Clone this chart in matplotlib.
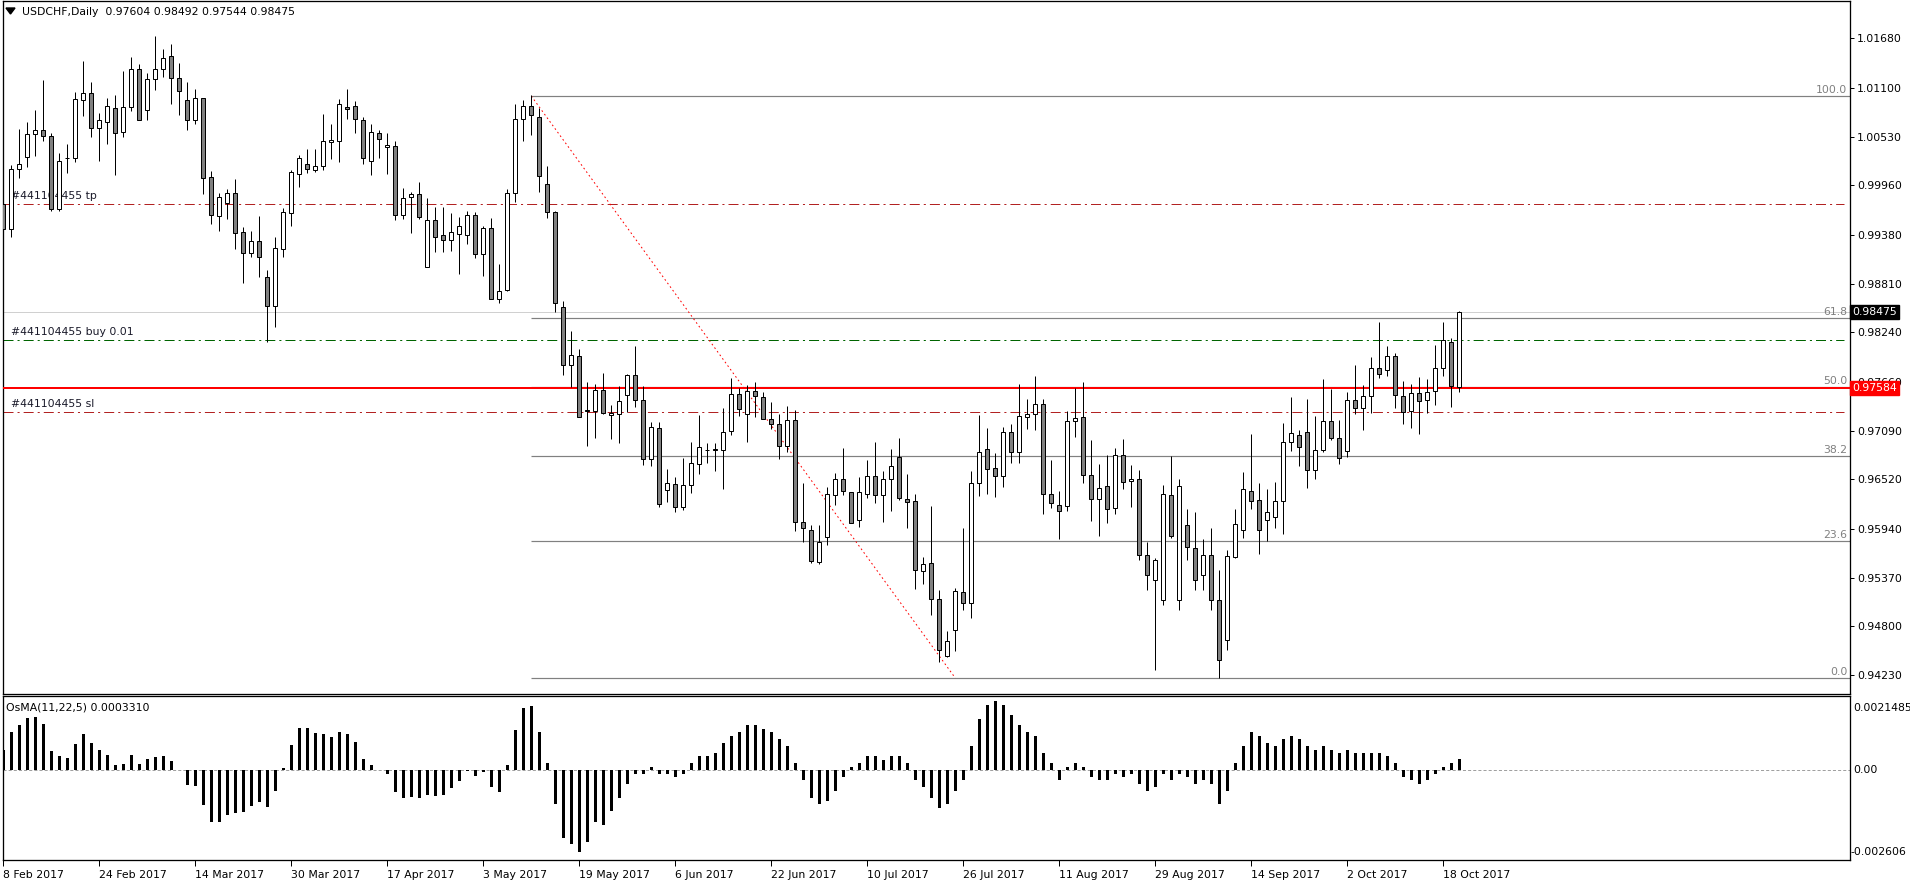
import numpy as np
import matplotlib
matplotlib.use("Agg")
import matplotlib.pyplot as plt
import matplotlib.transforms as mtrans

plt.rcParams['font.family'] = ['DejaVu Sans']
plt.rcParams['lines.scale_dashes'] = False

# ---------------- data ----------------
open_ = [0.99737,0.99445,1.00147,1.00287,1.00556,1.00603,1.00533,0.99679,1.00275,1.00275,
 1.00958,1.01036,1.00626,1.00697,1.00860,1.00580,1.00872,1.01317,1.00837,1.01200,
 1.01317,1.01469,1.01211,1.00954,1.00720,1.00977,1.00053,0.99597,0.99749,0.99866,
 0.99410,0.99164,0.99304,0.98883,0.98552,0.99219,0.99632,1.00096,1.00205,1.00135,
 1.00182,1.00463,1.00474,1.00872,1.00884,1.00720,1.00240,1.00568,1.00404,1.00416,
 0.99609,0.99819,0.99854,0.99000,0.99550,0.99375,0.99316,0.99386,0.99375,0.99609,
 0.99152,0.99456,0.98626,0.98739,0.99866,1.00732,1.00884,1.00755,0.99971,0.99644,
 0.98540,0.97854,0.97959,0.97335,0.97315,0.97561,0.97269,0.97280,0.97503,0.97737,
 0.97444,0.96762,0.97116,0.96391,0.96461,0.96192,0.96450,0.96699,0.96863,0.96871,
 0.96863,0.97081,0.97514,0.97280,0.97549,0.97479,0.97222,0.97163,0.96906,0.97210,
 0.96017,0.95923,0.95549,0.95841,0.96333,0.96520,0.96368,0.96040,0.96344,0.96555,
 0.96333,0.96520,0.96777,0.96286,0.96262,0.95443,0.95537,0.95116,0.94449,0.94753,
 0.95198,0.95069,0.96473,0.96871,0.96648,0.96555,0.97070,0.96836,0.97245,0.97280,
 0.97397,0.96344,0.96216,0.96204,0.97198,0.97245,0.96567,0.96286,0.96438,0.96180,
 0.96801,0.96496,0.96520,0.95634,0.95342,0.95108,0.96333,0.95108,0.95982,0.95712,
 0.95400,0.95631,0.95108,0.94639,0.95607,0.95923,0.96379,0.96274,0.96040,0.96075,
 0.96262,0.96953,0.97035,0.97070,0.96625,0.96859,0.97198,0.96999,0.96847,0.97444,
 0.97350,0.97491,0.97818,0.97795,0.97959,0.97491,0.97315,0.97526,0.97444,0.97549,
 0.97818,0.98123,0.97604]
high = [0.99995,1.00197,1.00619,1.00697,1.00841,1.01192,1.00568,1.00334,1.00439,1.01052,
 1.01414,1.01169,1.00802,1.00977,1.01013,1.01297,1.01457,1.01383,1.01270,1.01711,
 1.01555,1.01613,1.01391,1.01169,1.01087,1.00985,1.00131,0.99866,0.99913,1.00030,
 0.99468,0.99421,0.99597,0.98973,0.99355,0.99690,1.00135,1.00311,1.00385,1.00385,
 1.00794,1.00677,1.00970,1.01087,1.00946,1.00763,1.00677,1.00607,1.00568,1.00478,
 0.99928,0.99882,0.99999,0.99807,0.99702,0.99706,0.99636,0.99589,0.99659,0.99644,
 0.99488,0.99573,0.99043,0.99917,1.00911,1.00958,1.01016,1.00860,1.00182,0.99660,
 0.98606,0.98255,0.98041,0.97655,0.97635,0.97764,0.97386,0.97612,0.97756,0.98076,
 0.97612,0.97194,0.97194,0.96641,0.96543,0.96769,0.96960,0.97276,0.96941,0.96941,
 0.97350,0.97705,0.97584,0.97623,0.97655,0.97538,0.97421,0.97280,0.97374,0.97327,
 0.96473,0.95985,0.95985,0.96426,0.96590,0.96882,0.96368,0.96543,0.96746,0.96953,
 0.96613,0.96871,0.96999,0.96578,0.96344,0.95607,0.96208,0.95225,0.94741,0.95244,
 0.95946,0.96613,0.97272,0.97116,0.96824,0.97128,0.97163,0.97635,0.97456,0.97729,
 0.97456,0.96746,0.96379,0.97315,0.97584,0.97655,0.96976,0.96695,0.96800,0.96886,
 0.96992,0.96687,0.96625,0.95786,0.95599,0.96449,0.96796,0.96519,0.96169,0.96137,
 0.95818,0.95947,0.95459,0.95690,0.96169,0.96602,0.97046,0.96473,0.96403,0.96485,
 0.97175,0.97479,0.97093,0.97456,0.97257,0.97690,0.97573,0.97210,0.97538,0.97854,
 0.97620,0.97947,0.98357,0.98076,0.97994,0.97666,0.97631,0.97713,0.97690,0.98088,
 0.98357,0.98169,0.98492]
low = [0.99289,0.99359,1.00049,1.00178,1.00307,1.00478,0.99659,0.99659,1.00108,1.00236,
 1.00771,1.00529,1.00248,1.00447,1.00084,1.00529,1.00833,1.00724,1.00728,1.01075,
 1.01231,1.00915,1.00786,1.00603,1.00681,0.99854,0.99511,0.99421,0.99570,0.99219,
 0.98813,0.99117,0.98891,0.98130,0.98306,0.99125,0.99488,0.99944,1.00100,1.00112,
 1.00135,1.00264,1.00236,1.00736,1.00568,1.00213,1.00084,1.00283,1.00096,0.99550,
 0.99562,0.99406,0.99562,0.99000,0.99183,0.99183,0.99195,0.98926,0.99277,0.99113,
 0.98903,0.98626,0.98587,0.98727,0.99761,1.00482,1.00552,0.99878,0.99573,0.98474,
 0.97737,0.97596,0.97245,0.96914,0.97007,0.97280,0.96996,0.96949,0.97304,0.97362,
 0.96691,0.96680,0.96200,0.96258,0.96134,0.96165,0.96356,0.96578,0.96707,0.96617,
 0.96403,0.97035,0.97257,0.96953,0.97253,0.97222,0.97113,0.96754,0.96843,0.95911,
 0.95783,0.95537,0.95525,0.95748,0.96216,0.96333,0.96005,0.95958,0.96297,0.96239,
 0.96017,0.96145,0.96278,0.95946,0.95233,0.95291,0.94928,0.94379,0.94437,0.94507,
 0.94987,0.94893,0.96329,0.96352,0.96309,0.96426,0.96707,0.96707,0.97105,0.97093,
 0.96110,0.96180,0.95826,0.96145,0.97011,0.96473,0.96036,0.95853,0.96005,0.96110,
 0.96411,0.96192,0.95576,0.95225,0.94288,0.95049,0.95829,0.94991,0.95576,0.95225,
 0.95225,0.94991,0.94194,0.94522,0.95595,0.95829,0.96169,0.95642,0.95794,0.95946,
 0.95876,0.96847,0.96672,0.96414,0.96520,0.96836,0.96976,0.96695,0.96777,0.97280,
 0.97093,0.97292,0.97701,0.97725,0.97350,0.97163,0.97116,0.97046,0.97292,0.97386,
 0.97725,0.97362,0.97544]
close = [0.99445,1.00147,1.00205,1.00556,1.00603,1.00533,0.99679,1.00240,1.00279,1.00966,
 1.01036,1.00626,1.00724,1.00884,1.00568,1.00872,1.01317,1.00724,1.01200,1.01317,
 1.01445,1.01211,1.01059,1.00720,1.00977,1.00041,0.99609,0.99819,0.99866,0.99398,
 0.99164,0.99304,0.99117,0.98544,0.99222,0.99644,1.00112,1.00279,1.00147,1.00182,
 1.00474,1.00486,1.00907,1.00849,1.00732,1.00275,1.00580,1.00498,1.00428,0.99609,
 0.99807,0.99854,0.99585,0.99550,0.99351,0.99316,0.99410,0.99484,0.99609,0.99152,
 0.99456,0.98626,0.98719,0.99866,1.00732,1.00884,1.00779,1.00065,0.99644,0.98579,
 0.97854,0.97971,0.97245,0.97323,0.97561,0.97292,0.97292,0.97432,0.97737,0.97444,
 0.96762,0.97128,0.96227,0.96473,0.96192,0.96450,0.96707,0.96894,0.96867,0.96863,
 0.97070,0.97514,0.97339,0.97549,0.97491,0.97222,0.97163,0.96906,0.97210,0.96017,
 0.95946,0.95560,0.95783,0.96344,0.96520,0.96379,0.96005,0.96368,0.96555,0.96333,
 0.96520,0.96672,0.96297,0.96251,0.95455,0.95525,0.95116,0.94519,0.94624,0.95209,
 0.95069,0.96473,0.96836,0.96637,0.96555,0.97070,0.96836,0.97257,0.97280,0.97397,
 0.96344,0.96239,0.96145,0.97198,0.97233,0.96567,0.96286,0.96414,0.96169,0.96801,
 0.96485,0.96520,0.95631,0.95400,0.95576,0.96344,0.95853,0.96438,0.95724,0.95342,
 0.95631,0.95108,0.94405,0.95620,0.95993,0.96403,0.96262,0.95923,0.96134,0.96262,
 0.96953,0.97058,0.96894,0.96625,0.96859,0.97198,0.96999,0.96765,0.97444,0.97350,
 0.97491,0.97818,0.97748,0.97959,0.97503,0.97304,0.97526,0.97432,0.97538,0.97818,
 0.98146,0.97608,0.98475]
osma = [0.000598,0.00110,0.00132,0.00151,0.00155,0.00135,0.00057,0.00040,0.00034,0.00077,
 0.00106,0.00080,0.00060,0.00045,0.00016,0.00019,0.00045,0.00019,0.00031,0.00037,
 0.00040,0.00028,0.00000,-0.00044,-0.00046,-0.00101,-0.00150,-0.00150,-0.00130,-0.00124,
 -0.00122,-0.00104,-0.00093,-0.00107,-0.00061,0.00005,0.00074,0.00123,0.00123,0.00109,
 0.00106,0.00097,0.00112,0.00106,0.00083,0.00031,0.00014,0.00001,-0.00012,-0.00064,
 -0.00081,-0.00078,-0.00081,-0.00072,-0.00075,-0.00072,-0.00052,-0.00032,-0.00003,-0.00017,
 -0.00004,-0.00049,-0.00064,0.00016,0.00118,0.00181,0.00187,0.00112,0.00022,-0.00098,
 -0.00197,-0.00214,-0.00237,-0.00210,-0.00150,-0.00160,-0.00120,-0.00080,-0.00040,-0.00010,
 -0.00010,0.00010,-0.00010,-0.00010,-0.00020,-0.00010,0.00020,0.00040,0.00040,0.00050,
 0.00080,0.00100,0.00110,0.00130,0.00130,0.00120,0.00110,0.00090,0.00070,0.00020,
 -0.00030,-0.00080,-0.00100,-0.00090,-0.00060,-0.00020,0.00010,0.00020,0.00040,0.00040,
 0.00030,0.00040,0.00040,0.00020,-0.00030,-0.00050,-0.00080,-0.00110,-0.00100,-0.00060,
 -0.00030,0.00070,0.00150,0.00190,0.00200,0.00190,0.00160,0.00130,0.00110,0.00100,
 0.00050,0.00020,-0.00030,0.00010,0.00020,0.00010,-0.00020,-0.00030,-0.00030,-0.00010,
 -0.00020,-0.00010,-0.00040,-0.00060,-0.00050,-0.00010,-0.00030,-0.00010,-0.00020,-0.00040,
 -0.00030,-0.00040,-0.00100,-0.00060,0.00020,0.00070,0.00110,0.00100,0.00080,0.00070,
 0.00090,0.00100,0.00090,0.00070,0.00060,0.00070,0.00060,0.00050,0.00060,0.00050,
 0.00050,0.00050,0.00050,0.00040,0.00020,-0.00020,-0.00030,-0.00040,-0.00030,-0.00010,
 0.00010,0.00020,0.000331]

date_idx = [0, 12, 24, 36, 48, 60, 72, 84, 96, 108, 120, 132, 144, 156, 168, 180]
date_labels = ["8 Feb 2017", "24 Feb 2017", "14 Mar 2017", "30 Mar 2017", "17 Apr 2017",
               "3 May 2017", "19 May 2017", "6 Jun 2017", "22 Jun 2017", "10 Jul 2017",
               "26 Jul 2017", "11 Aug 2017", "29 Aug 2017", "14 Sep 2017", "2 Oct 2017",
               "18 Oct 2017"]
price_ticks = [1.01680, 1.01100, 1.00530, 0.99960, 0.99380, 0.98810, 0.98240, 0.97660,
               0.97090, 0.96520, 0.95940, 0.95370, 0.94800, 0.94230]

fib_start, fib_end = 66, 119
fib_high, fib_low = 1.01005, 0.94195
fib_levels = [0.0, 23.6, 38.2, 50.0, 61.8, 100.0]
tp_price, buy_price, sl_price = 0.99738, 0.98146, 0.97304
bid_price, hline_price = 0.98475, 0.97584
osma_max, osma_min = 0.0021485, -0.002606
header = "USDCHF,Daily  0.97604 0.98492 0.97544 0.98475"
osma_title = "OsMA(11,22,5) 0.0003310"

# ---------------- figure ----------------
W, H = 1910, 884
fig = plt.figure(figsize=(W / 100, H / 100), dpi=100)
fig.patch.set_facecolor("white")
PX = 0.72  # one pixel in points

L, R = 2.5, 1850
ax = fig.add_axes([L / W, 1 - 694 / H, (R - L) / W, (694 - 1) / H])
ax2 = fig.add_axes([L / W, 1 - 860 / H, (R - L) / W, (860 - 696) / H])

n = len(close)
x = np.arange(n)
o = np.array(open_); c = np.array(close); hi = np.array(high); lo = np.array(low)

ax.set_xlim(-0.1, 230.84)
ax.set_ylim(0.94008, 1.02117)
ax2.set_xlim(-0.1, 230.84)
ax2.set_ylim(osma_min - 0.00001, osma_max + 0.00001)

for a in (ax, ax2):
    for s in a.spines.values():
        s.set_linewidth(PX * 1.3)
        s.set_color("black")
    a.set_facecolor("white")

# candles
ax.vlines(x, lo, hi, color="black", lw=PX, zorder=4)
bull = c >= o
bottoms = np.minimum(o, c)
heights = np.abs(c - o)
cols = np.where(bull, "white", "#808080")
ax.bar(x, heights, bottom=bottoms, width=0.55, color=cols, edgecolor="black",
       linewidth=PX, zorder=5)

# horizontal lines
ddash = (0, (7.2, 2.9, 1.5, 2.9))
ax.axhline(bid_price, color="#D0D0D0", lw=PX, zorder=2)
ax.axhline(tp_price, xmax=0.997, color="#B22222", lw=PX, ls=ddash, zorder=2)
ax.axhline(buy_price, xmax=0.997, color="#006400", lw=PX, ls=ddash, zorder=2)
ax.axhline(sl_price, xmax=0.997, color="#B22222", lw=PX, ls=ddash, zorder=2)

# fibonacci
bt = mtrans.blended_transform_factory(ax.transAxes, ax.transData)
for lv in fib_levels:
    p = fib_low + (fib_high - fib_low) * lv / 100.0
    ax.plot([fib_start, 230.84], [p, p], color="#808080", lw=PX * 1.2, zorder=2,
            solid_capstyle="butt")
    ax.text(0.9985, p + 0.00012, f"{lv:.1f}", transform=bt,
            ha="right", va="bottom", fontsize=7.8, color="#808080", zorder=3)
ax.plot([fib_start, fib_end], [fib_high, fib_low], color="red", lw=PX,
        ls=(0, (1.2, 2.0)), zorder=3)

ax.axhline(hline_price, color="#FF0000", lw=PX * 2, zorder=3)

# order labels
for txt, p in [("#441104455 tp", tp_price), ("#441104455 buy 0.01", buy_price),
               ("#441104455 sl", sl_price)]:
    ax.text(0.0045, p + 0.00035, txt, transform=bt, fontsize=7.8, color="#1a1a2a",
            ha="left", va="bottom", zorder=1)

# y axis on right
ax.yaxis.tick_right()
ax.set_yticks(price_ticks)
ax.set_yticklabels([f"{v:.5f}" for v in price_ticks])
ax.tick_params(axis="y", direction="out", length=3, width=PX, pad=2, labelsize=7.8,
               colors="black")
ax.set_xticks([])

# price boxes
for p, bg in [(bid_price, "black"), (hline_price, "#FF0000")]:
    ax.text(1.0012, p, f"{p:.5f}", transform=bt, ha="left", va="center", fontsize=7.8,
            color="white", zorder=10, clip_on=False,
            bbox=dict(boxstyle="square,pad=0.18", fc=bg, ec=bg))

# header
fig.text(22 / W, 1 - 12 / H, header, fontsize=7.8, ha="left", va="center", color="black")
fig.patches.append(plt.Polygon([[6 / W, 1 - 8 / H], [15 / W, 1 - 8 / H], [10.5 / W, 1 - 14 / H]],
                               closed=True, transform=fig.transFigure, fc="black", ec="black"))

# OsMA
ax2.bar(x, osma, width=0.38, color="black", linewidth=0, zorder=3)
ax2.axhline(0, color="#A0A0A0", lw=PX, ls=(0, (2.2, 1.5)), zorder=2)
ax2.text(0.002, 0.93, osma_title, transform=ax2.transAxes, fontsize=7.8, ha="left",
         va="center")
ax2.set_yticks([])
t2 = mtrans.blended_transform_factory(ax2.transAxes, ax2.transData)
ax2.text(1.0015, osma_max - 0.00033, f"{osma_max:.7f}", transform=t2, ha="left", va="center",
         fontsize=7.8, clip_on=False)
ax2.text(1.0015, 0, "0.00", transform=t2, ha="left", va="center", fontsize=7.8, clip_on=False)
ax2.text(1.0005, osma_min + 0.00022, f"{osma_min:.6f}", transform=t2, ha="left", va="center",
         fontsize=7.8, clip_on=False)

ax2.set_xticks(date_idx)
ax2.set_xticklabels(date_labels, ha="left")
ax2.tick_params(axis="x", direction="out", length=4, width=PX, pad=3, labelsize=7.8)

fig.savefig("out.png", dpi=100, facecolor="white")
